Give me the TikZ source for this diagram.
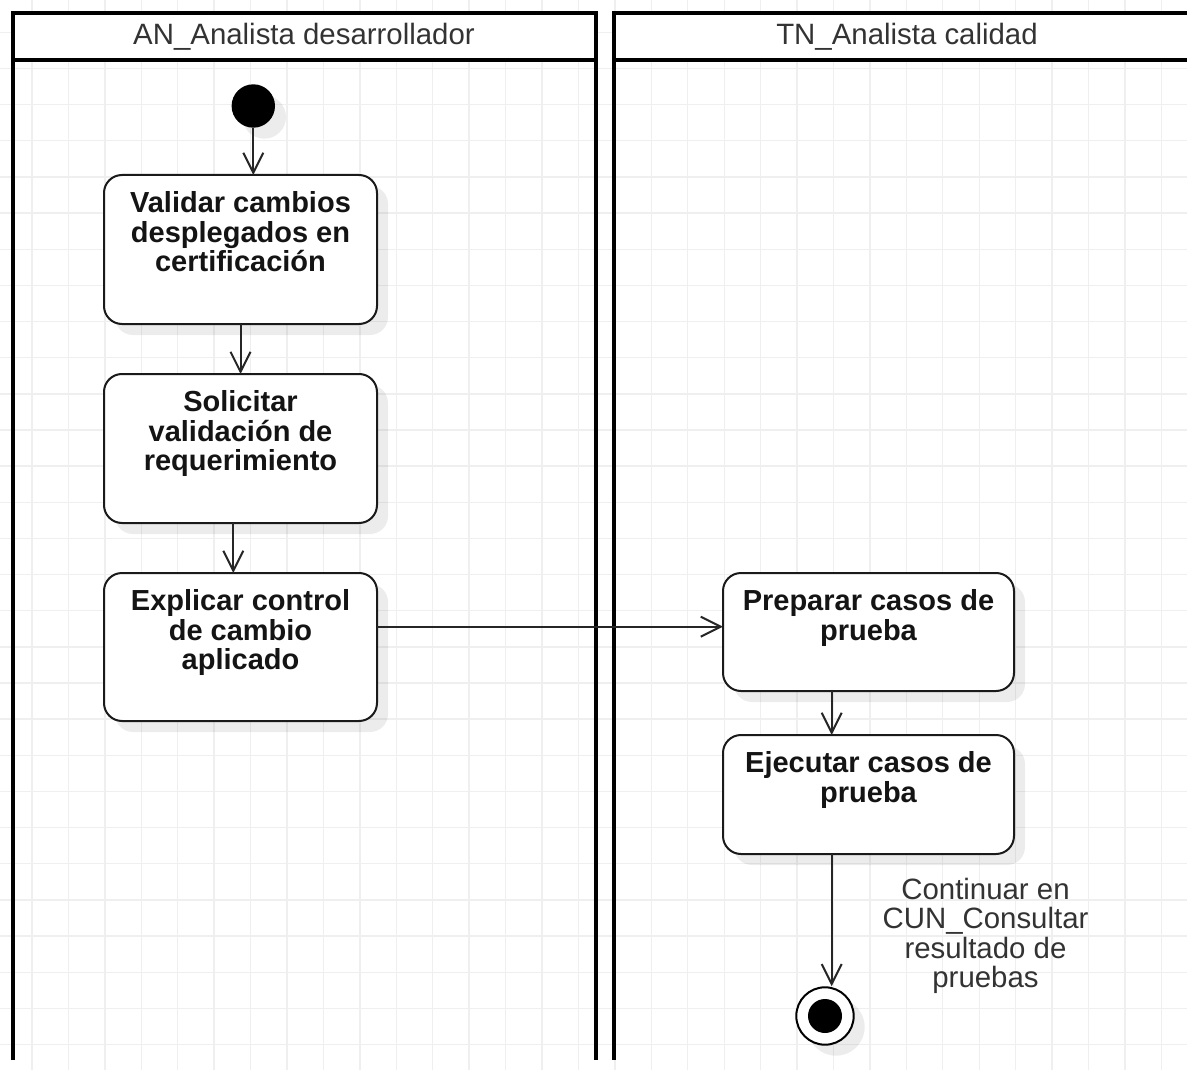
\documentclass[tikz,border=0pt]{standalone}
\usepackage{fontspec}
\setmainfont{Liberation Sans}
\usetikzlibrary{arrows.meta,calc,shadows}
\definecolor{gridc}{HTML}{EFEFEF}
\definecolor{txt}{HTML}{333333}
\definecolor{strk}{HTML}{1A1A1A}
\newcommand{\actfont}{\fontsize{29pt}{29.2pt}\selectfont\bfseries\lineskiplimit=-50pt}
\newcommand{\lblfont}{\fontsize{29.4pt}{29.3pt}\selectfont\lineskiplimit=-50pt}
\newcommand{\topstrut}{\rule{0pt}{23pt}}
\tikzset{
  gridline/.style={draw=gridc, line width=1.4pt},
  laneline/.style={draw=black, line width=4pt},
  lanehead/.style={draw=black, line width=4pt, fill=white},
  lanetitle/.style={anchor=base, inner sep=0pt, text=txt, font=\fontsize{29.4pt}{30pt}\selectfont},
  shad/.style={drop shadow={shadow xshift=11pt, shadow yshift=-11pt, fill=black, opacity=0.075}},
  act/.style={draw=strk, line width=2pt, rounded corners=18pt, fill=white, inner sep=0pt,
              outer sep=0pt, anchor=north west, shad},
  acttext/.style={anchor=north, inner sep=0pt, align=center, font=\actfont, text=black!92},
  lbl/.style={anchor=north, inner sep=0pt, align=center, font=\lblfont, text=txt},
  arr/.style={draw=black!85, line width=2pt, -{Straight Barb[length=20pt,width=20pt,line width=2pt]}},
  startnode/.style={circle, fill=black, draw=none, minimum size=43.4pt, inner sep=0pt, shad},
  endnode/.style={circle, fill=white, draw=black, line width=2pt, minimum size=57.4pt, inner sep=0pt, shad,
              path picture={\fill[black] (path picture bounding box.center) circle (17pt);}}
}
\begin{document}
\begin{tikzpicture}[x=1pt, y=-1pt]
\useasboundingbox (0,0) rectangle (1187,1070);
\clip (0,0) rectangle (1187,1070);
\fill[white] (0,0) rectangle (1187,1070);
% grid
\foreach \i in {0,...,33} { \draw[gridline] ({-4.4+36.43*\i},0) -- ({-4.4+36.43*\i},1070); }
\foreach \j in {0,...,30} { \draw[gridline] (0,{-3.85+36.15*\j}) -- (1187,{-3.85+36.15*\j}); }
% lanes
\draw[laneline] (12.5,1060) -- (12.5,13) -- (595.5,13) -- (595.5,1060);
\draw[lanehead] (12.5,13) rectangle (595.5,60);
\node[lanetitle] (lane1) at (304,45) {AN\_Analista desarrollador};
\draw[laneline] (613.5,1060) -- (613.5,13) -- (1200,13);
\draw[lanehead] (613.5,13) rectangle (1200,60);
\node[lanetitle] (lane2) at (907,45) {TN\_Analista calidad};
% activities
\node[startnode] (start) at (253.3,106) {};
\node[act, minimum width=273pt, minimum height=149pt] (b1) at (104,175) {};
\node[act, minimum width=273pt, minimum height=149pt] (b2) at (104,374) {};
\node[act, minimum width=273pt, minimum height=148pt] (b3) at (104,573) {};
\node[act, minimum width=291pt, minimum height=118pt] (b4) at (723,573) {};
\node[act, minimum width=291pt, minimum height=119pt] (b5) at (723,735) {};
\node[endnode] (endc) at (825,1016) {};
\node[acttext] (t1) at ([yshift=-14.7pt]b1.north) {\topstrut Validar cambios\\desplegados en\\certificación};
\node[acttext] (t2) at ([yshift=-14.7pt]b2.north) {\topstrut Solicitar\\validación de\\requerimiento};
\node[acttext] (t3) at ([yshift=-14.7pt]b3.north) {\topstrut Explicar control\\de cambio\\aplicado};
\node[acttext] (t4) at ([yshift=-14.7pt]b4.north) {\topstrut Preparar casos de\\prueba};
\node[acttext] (t5) at ([yshift=-14.7pt]b5.north) {\topstrut Ejecutar casos de\\prueba};
% connectors
\draw[arr] (start.south) -- (start.south |- b1.north);
\draw[arr] (b1.south) -- (b2.north);
\draw[arr] ([xshift=-7.2pt]b2.south) -- ([xshift=-7.2pt]b2.south |- b3.north);
\draw[arr] ([yshift=20.3pt]b3.east) -- ([yshift=20.3pt]b3.east -| b4.west);
\draw[arr] ([xshift=-36.8pt]b4.south) -- ([xshift=-36.8pt]b4.south |- b5.north);
\draw[arr] ([xshift=-36.8pt]b5.south) -- ([xshift=-36.8pt]b5.south |- endc.north);
\node[lbl] (note) at (985.5,876.3) {\topstrut Continuar en\\CUN\_Consultar\\resultado de\\pruebas};
\end{tikzpicture}
\end{document}
